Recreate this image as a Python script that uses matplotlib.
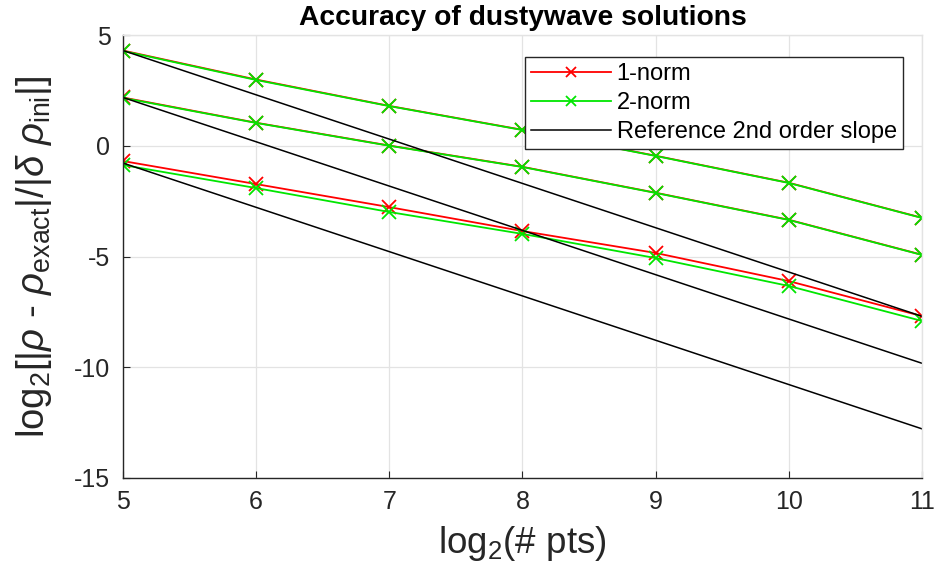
import matplotlib
matplotlib.use('Agg')
import matplotlib.pyplot as plt

plt.rcParams['font.family'] = ['Liberation Sans', 'DejaVu Sans']
plt.rcParams['mathtext.fontset'] = 'custom'
plt.rcParams['mathtext.rm'] = 'Liberation Sans'
plt.rcParams['mathtext.it'] = 'Liberation Sans:italic'
plt.rcParams['axes.unicode_minus'] = False

# data
npts = [5, 6, 7, 8, 9, 10, 11]
norm1_a = [4.30, 2.99, 1.80, 0.72, -0.45, -1.67, -3.25]
norm2_a = [4.28, 2.97, 1.79, 0.71, -0.46, -1.68, -3.26]
norm1_b = [2.18, 1.04, 0.01, -0.95, -2.12, -3.34, -4.92]
norm2_b = [2.16, 1.03, 0.00, -0.96, -2.13, -3.35, -4.93]
norm1_c = [-0.69, -1.73, -2.77, -3.85, -4.84, -6.11, -7.69]
norm2_c = [-0.87, -1.91, -2.99, -3.98, -5.07, -6.33, -7.91]

ref_x = [5, 11]
ref_a = [4.30, -7.70]
ref_b = [2.18, -9.82]
ref_c = [-0.78, -12.78]

fig = plt.figure(figsize=(9.41, 5.77), dpi=100)
ax = fig.add_axes([0.1307, 0.1716, 0.8490, 0.7677])

mk = dict(marker='x', markersize=9.5, markeredgewidth=1.3, linewidth=1.3)
l1, = ax.plot(npts, norm1_a, color='#ff0000', **mk)
l2, = ax.plot(npts, norm2_a, color='#00e600', **mk)
ax.plot(npts, norm1_b, color='#ff0000', **mk)
ax.plot(npts, norm2_b, color='#00e600', **mk)
ax.plot(npts, norm1_c, color='#ff0000', **mk)
ax.plot(npts, norm2_c, color='#00e600', **mk)
l3, = ax.plot(ref_x, ref_a, color='black', linewidth=1.1)
ax.plot(ref_x, ref_b, color='black', linewidth=1.1)
ax.plot(ref_x, ref_c, color='black', linewidth=1.1)

ax.set_xlim(5, 11)
ax.set_ylim(-15, 5)
ax.set_xticks(range(5, 12))
ax.set_yticks([-15, -10, -5, 0, 5])
ax.grid(True, color='#e3e3e3', linewidth=0.9)
ax.set_axisbelow(True)
ax.tick_params(direction='in', labelsize=18, length=5, color='#262626', labelcolor='#262626',
               top=False, right=False, pad=9)
for s in ax.spines.values():
    s.set_color('#262626')
    s.set_linewidth(1.0)
ax.spines['top'].set_color('#e3e3e3')
ax.spines['right'].set_color('#e3e3e3')

ax.set_title('Accuracy of dustywave solutions', fontsize=20.3, fontweight='bold', pad=7)
ax.set_xlabel(r'log$_2$(# pts)', fontsize=26.5, color='#262626', labelpad=7)
ax.set_ylabel(r'log$_2$[|$\it{\rho}$ - $\it{\rho}_{\rm exact}$|/|$\it{\delta}$ $\it{\rho}_{\rm ini}$|]',
              fontsize=27.5, color='#262626')
ax.yaxis.set_label_coords(-0.0864, 0.5)

leg = ax.legend([l1, l2, l3], ['1-norm', '2-norm', 'Reference 2nd order slope'],
                loc='upper right', bbox_to_anchor=(0.976, 0.95), borderaxespad=0,
                fontsize=17, fancybox=False, framealpha=1, edgecolor='#262626',
                handlelength=3.4, borderpad=0.25, labelspacing=0.3, handletextpad=0.25,
                markerscale=0.8)
leg.get_frame().set_linewidth(1.0)

fig.savefig('out.png', dpi=100)
